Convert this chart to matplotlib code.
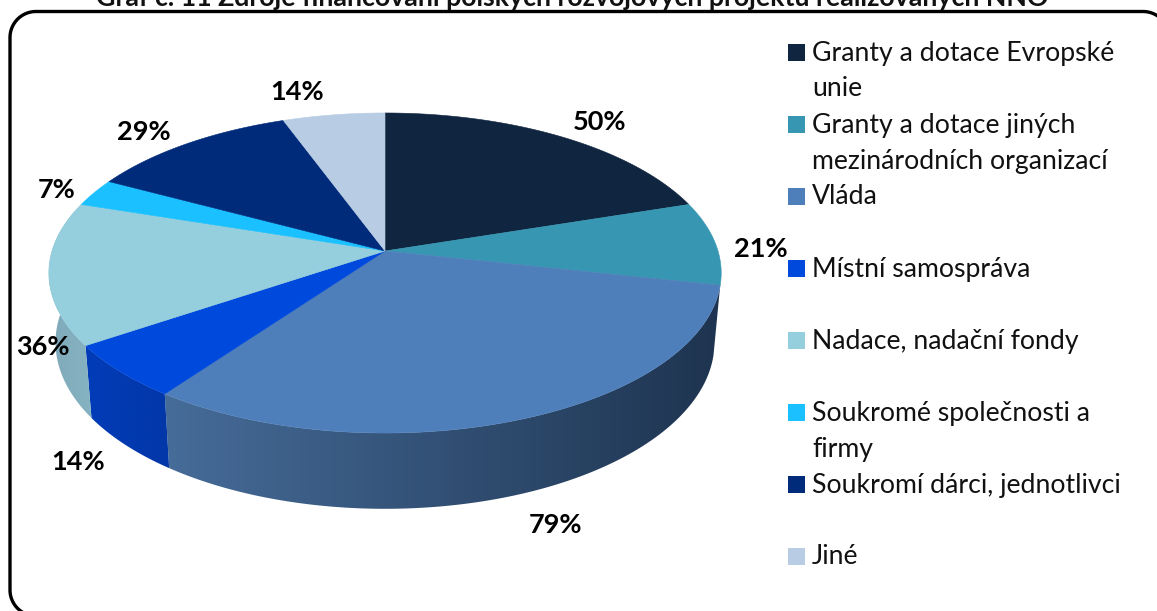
import numpy as np
import matplotlib
matplotlib.use('Agg')
import matplotlib.pyplot as plt
from matplotlib.patches import Polygon, Rectangle

plt.rcParams['font.family'] = ['Lato', 'DejaVu Sans']

# datos
categorias = ['Granty a dotace Evropské\nunie',
              'Granty a dotace jiných\nmezinárodních organizací',
              'Vláda',
              'Místní samospráva',
              'Nadace, nadační fondy',
              'Soukromé společnosti a\nfirmy',
              'Soukromí dárci, jednotlivci',
              'Jiné']
valores = [50, 21, 79, 14, 36, 7, 29, 14]
colores = ['#10253f', '#3797b2', '#4f7fba', '#0049dd', '#95cedc', '#1ac0ff', '#002a7a', '#b8cce4']
titulo = 'Graf č. 11 Zdroje financování polských rozvojových projektů realizovaných NNO'

# degradado de las caras laterales visibles: indice -> (izquierda, derecha)
lados = {2: ('#466c99', '#1e3450'), 3: ('#023cb8', '#0237a8'), 4: ('#7fa9ba', '#86b3c2')}

# posiciones de las etiquetas y de la leyenda (pixeles)
pos_etiquetas = [(600, 122), (761, 249), (556, 525), (78, 462), (43, 347), (57, 190), (144, 132), (297, 92)]
y_leyenda = [53, 125, 197, 269, 341, 413, 485, 557]

W, H = 1157, 611
cx, cy = 385, 251     # vertice de la tarta
rx, ry, k = 333, 157, 0.1375   # proyeccion en perspectiva
borde_x, borde_y, prof = 0.98, 1.04, 68.5   # borde inferior


def proyectar(frac):
    th = 2 * np.pi * np.asarray(frac)
    x, y = np.sin(th), np.cos(th)
    w = 1 + k * y
    return rx * x / w, -ry * y / w


def arista(f0, f1, abajo=False):
    f = np.linspace(f0, f1, 200)
    X, Y = proyectar(f)
    if abajo:
        return np.column_stack((cx + X * borde_x, cy + Y * borde_y + prof))
    return np.column_stack((cx + X, cy + Y))


def esquina(xc, yc, r, a0, a1):
    a = np.radians(np.linspace(a0, a1, 30))
    return np.column_stack((xc + r * np.cos(a), yc + r * np.sin(a)))


fig = plt.figure(figsize=(W / 100, H / 100), dpi=100)
ax = fig.add_axes([0, 0, 1, 1])

acum = np.concatenate(([0], np.cumsum(valores))) / sum(valores)

# caras laterales
for i, (c0, c1) in lados.items():
    sup = arista(acum[i], acum[i + 1])
    inf = arista(acum[i], acum[i + 1], abajo=True)
    pts = np.vstack((sup, inf[::-1]))
    pol = Polygon(pts, closed=True, fc='none', ec='none')
    ax.add_patch(pol)
    cmap = matplotlib.colors.LinearSegmentedColormap.from_list('lado', [c0, c1])
    grad = np.linspace(0, 1, 256).reshape(1, -1)
    im = ax.imshow(grad, cmap=cmap, aspect='auto', zorder=1,
                   extent=(pts[:, 0].min(), pts[:, 0].max(), pts[:, 1].max(), pts[:, 1].min()))
    im.set_clip_path(pol)
ax.set_xlim(0, W)
ax.set_ylim(H, 0)
ax.axis('off')

# cara superior
for i, color in enumerate(colores):
    pts = np.vstack(([[cx, cy]], arista(acum[i], acum[i + 1])))
    ax.add_patch(Polygon(pts, closed=True, fc=color, ec=color, lw=0.4, zorder=2))

for v, (x, y) in zip(valores, pos_etiquetas):
    ax.text(x, y, f'{v}%', fontsize=19.5, fontweight='bold', color='black',
            ha='center', va='center', zorder=4)

# leyenda
for nombre, color, y in zip(categorias, colores, y_leyenda):
    ax.add_patch(Rectangle((788, y - 9), 17, 17, fc=color, ec='none', zorder=3))
    for j, linea in enumerate(nombre.split('\n')):
        ax.text(812, y + 36 * j, linea, fontsize=19.2, color='#111111', va='center', ha='left', zorder=4)

# marco redondeado, se sale de la imagen por la derecha y abajo
marco = np.vstack((esquina(36, 590, 26, 110, 180),
                   esquina(36, 37.5, 26, 180, 270),
                   esquina(1143, 37.5, 26, 270, 325)))
ax.plot(marco[:, 0], marco[:, 1], color='black', lw=2.4, zorder=5)

# titulo cortado por el borde superior
ax.text(572, 6, titulo, fontsize=19.3, fontweight='bold', color='#111111',
        ha='center', va='baseline', zorder=4)

fig.savefig('out.png', dpi=100)
